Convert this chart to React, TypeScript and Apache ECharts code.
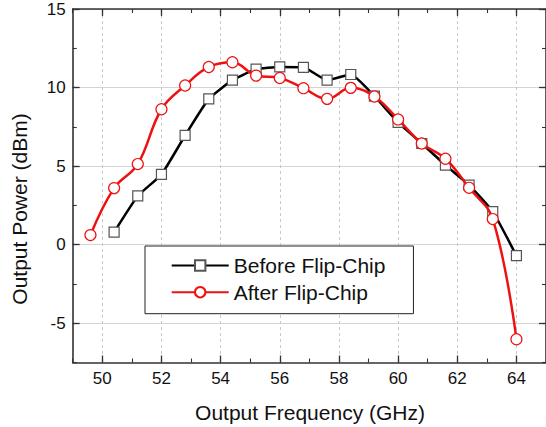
import { useEffect, useRef } from "react";
import * as echarts from "echarts";

const freqBefore = [50.4, 51.2, 52.0, 52.8, 53.6, 54.4, 55.2, 56.0, 56.8, 57.6, 58.4, 59.2, 60.0, 60.8, 61.6, 62.4, 63.2, 64.0];
const powerBefore = [0.8, 3.1, 4.47, 6.95, 9.28, 10.47, 11.17, 11.31, 11.29, 10.47, 10.83, 9.45, 7.78, 6.44, 5.06, 3.79, 2.1, -0.7];
const freqAfter = [49.6, 50.4, 51.2, 52.0, 52.8, 53.6, 54.4, 55.2, 56.0, 56.8, 57.6, 58.4, 59.2, 60.0, 60.8, 61.6, 62.4, 63.2, 64.0];
const powerAfter = [0.61, 3.6, 5.13, 8.62, 10.13, 11.31, 11.61, 10.76, 10.61, 9.96, 9.28, 9.98, 9.43, 7.97, 6.44, 5.47, 3.62, 1.63, -6.02];
const xMajorTicks = [50, 52, 54, 56, 58, 60, 62, 64];
const yMajorTicks = [-5, 0, 5, 10, 15];
const seriesNames = ["Before Flip-Chip", "After Flip-Chip"];
const xTitle = "Output Frequency (GHz)";
const yTitle = "Output Power (dBm)";

const FONT = '"Liberation Sans", Arial, Helvetica, sans-serif';
const AXIS_COLOR = "#333";
const X_MIN = 49, X_MAX = 65, Y_MIN = -7.5, Y_MAX = 15;

export default function App() {
  const ref = useRef<HTMLDivElement>(null);
  useEffect(() => {
    if (!ref.current) return;
    const chart = echarts.init(ref.current, null, { renderer: "svg" });
    const baseX = (extra: any) => ({
      type: "value",
      min: X_MIN,
      max: X_MAX,
      axisLine: { show: false, onZero: false },
      axisLabel: { show: false },
      splitLine: { show: false },
      axisTick: { show: false },
      ...extra,
    });
    const baseY = (extra: any) => ({
      type: "value",
      min: Y_MIN,
      max: Y_MAX,
      axisLine: { show: false, onZero: false },
      axisLabel: { show: false },
      splitLine: { show: false },
      axisTick: { show: false },
      ...extra,
    });
    const majorTick = (vals: number[]) => ({
      show: true,
      inside: true,
      length: 7,
      customValues: vals,
      lineStyle: { color: AXIS_COLOR, width: 1.3 },
    });
    const minorTick = {
      show: true,
      inside: true,
      length: 4,
      lineStyle: { color: AXIS_COLOR, width: 1.1 },
    };
    chart.setOption({
      animation: false,
      backgroundColor: "#fff",
      grid: { left: 72.7, top: 9, width: 475, height: 353.5, containLabel: false },
      xAxis: [
        baseX({
          position: "bottom",
          minInterval: 2,
          maxInterval: 2,
          axisLine: { show: true, onZero: false, lineStyle: { color: AXIS_COLOR, width: 1.6 } },
          axisTick: majorTick(xMajorTicks),
          axisLabel: {
            show: true,
            customValues: xMajorTicks,
            margin: 7,
            color: "#111",
            fontSize: 17,
            fontFamily: FONT,
          },
          splitLine: {
            show: true,
            lineStyle: { color: "#c8c8c8", width: 1, type: [3, 3] },
          },
        }),
        baseX({ position: "bottom", interval: 1, axisTick: minorTick }),
        baseX({
          position: "top",
          minInterval: 2,
          maxInterval: 2,
          axisLine: { show: true, onZero: false, lineStyle: { color: AXIS_COLOR, width: 1.6 } },
          axisTick: majorTick(xMajorTicks),
        }),
        baseX({ position: "top", interval: 1, axisTick: minorTick }),
      ],
      yAxis: [
        baseY({
          position: "left",
          minInterval: 5,
          maxInterval: 5,
          axisLine: { show: true, onZero: false, lineStyle: { color: AXIS_COLOR, width: 1.6 } },
          axisTick: majorTick(yMajorTicks),
          axisLabel: {
            show: true,
            customValues: yMajorTicks,
            margin: 7,
            color: "#111",
            fontSize: 17,
            fontFamily: FONT,
          },
          splitLine: {
            show: true,
            lineStyle: { color: "#d4d4d4", width: 1, type: "solid" },
          },
        }),
        baseY({ position: "left", interval: 2.5, axisTick: minorTick }),
        baseY({
          position: "right",
          minInterval: 5,
          maxInterval: 5,
          axisLine: { show: true, onZero: false, lineStyle: { color: AXIS_COLOR, width: 1.6 } },
          axisTick: majorTick(yMajorTicks),
        }),
        baseY({ position: "right", interval: 2.5, axisTick: minorTick }),
      ],
      legend: {
        show: true,
        orient: "vertical",
        left: 145,
        top: 246,
        padding: [9, 28, 11, 25.7],
        itemGap: 5.7,
        itemWidth: 57,
        itemHeight: 13,
        backgroundColor: "#fff",
        borderColor: "#222",
        borderWidth: 1,
        textStyle: { fontSize: 21, fontFamily: FONT, color: "#111" },
        data: seriesNames,
      },
      series: [
        {
          name: seriesNames[0],
          type: "line",
          xAxisIndex: 0,
          yAxisIndex: 0,
          data: freqBefore.map((f, i) => [f, powerBefore[i]]),
          smooth: 0.15,
          symbol: "rect",
          symbolSize: 10,
          color: "#000",
          lineStyle: { color: "#000", width: 2.5 },
          itemStyle: { color: "#fff", borderColor: "#555", borderWidth: 1.2 },
          z: 3,
        },
        {
          name: seriesNames[1],
          type: "line",
          xAxisIndex: 0,
          yAxisIndex: 0,
          data: freqAfter.map((f, i) => [f, powerAfter[i]]),
          smooth: 0.4,
          symbol: "circle",
          symbolSize: 11,
          color: "#ee1111",
          lineStyle: { color: "#ee1111", width: 2.5 },
          itemStyle: { color: "#fff", borderColor: "#ee1111", borderWidth: 1.2 },
          z: 4,
        },
      ],
      graphic: [
        {
          type: "text",
          x: 310,
          y: 412,
          style: {
            text: xTitle,
            font: `21px ${FONT}`,
            fill: "#111",
            textAlign: "center",
            textVerticalAlign: "middle",
          },
        },
        {
          type: "text",
          x: 19,
          y: 209,
          rotation: Math.PI / 2,
          style: {
            text: yTitle,
            font: `21px ${FONT}`,
            fill: "#111",
            textAlign: "center",
            textVerticalAlign: "middle",
          },
        },
      ],
    });
    return () => chart.dispose();
  }, []);
  return (
    <div
      ref={ref}
      style={{ position: "fixed", left: 0, top: 0, width: 546, height: 427, background: "#fff" }}
    />
  );
}
